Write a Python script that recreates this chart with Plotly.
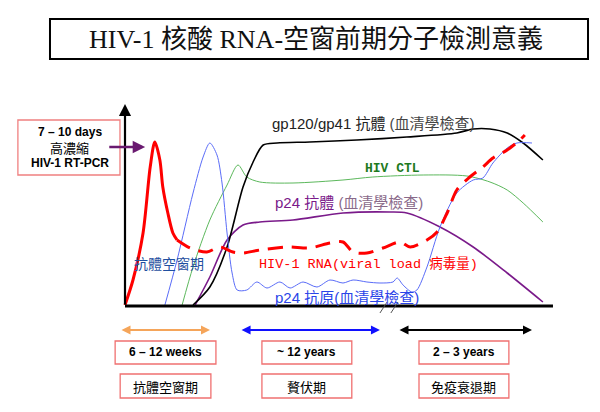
import plotly.graph_objects as go

# ---- data (time units 0-100 along x axis, level 0-100 along y axis) ----
rna_solid_t = [0, 1.9, 4.3, 6.0, 7.1, 8.3, 9.0, 10.2, 11.4, 12.4]
rna_solid_v = [0.5, 13, 36.5, 69.5, 82, 73, 59.5, 46.5, 36.5, 33]

rna_dash_t = [12.4, 15.5, 19.5, 22.6, 25.7, 28.1, 32.1, 38.6, 44, 48.8, 51.9, 54.3, 57.6,
              61.4, 65.5, 67.9, 71.9, 74.3, 76.7, 79, 82.1, 85.2, 87.6, 91, 94, 95.2]
rna_dash_v = [33, 29, 27, 29.5, 27, 26.5, 28, 29.5, 29, 31.5, 32, 27, 26.5,
              29, 32, 29.5, 33, 37, 46.5, 58, 64.5, 69.5, 74, 78, 83, 85.5]

p24ag_t = [9.5, 12.4, 16.2, 18.6, 20.2, 21.9, 23.1, 24.3, 25.5, 26.7, 29, 31.4, 33.8, 36.9,
           39.3, 42.4, 45.7, 48.8, 51.9, 54.3, 57.6, 60.7, 63.8, 64.8, 66.2, 68.3, 69.5,
           71.9, 75, 79, 82.9, 85.2, 87.6, 91, 93.3, 96.9]
p24ag_v = [0.5, 23, 56.5, 74.5, 81.5, 75.5, 61.5, 36.5, 16.5, 8, 8, 12, 9, 12,
           9, 12, 9.5, 13, 11.5, 13, 12, 11.5, 12, 14, 10.5, 7, 8,
           19.5, 39.5, 56.5, 63, 64, 71.5, 79, 81.5, 81.5]

ctl_t = [13.6, 16.2, 20.2, 24.3, 26.9, 29, 32.1, 40, 51.9, 59, 71, 81.4, 86.9, 91, 94.8, 99.5]
ctl_v = [0.5, 19.5, 43, 60.5, 70.5, 64.5, 62, 61.5, 63, 64.5, 65.5, 65, 62, 58, 51.5, 42]

gp_t = [16.2, 20.2, 24.3, 28.1, 30.5, 32.9, 36.2, 44, 55.2, 67.1, 79, 82.9, 86.9, 91, 94.8, 99.5]
gp_v = [0.5, 9.5, 29.5, 59.5, 72, 80.5, 81.5, 82, 83, 84.5, 86.5, 88.5, 88.5, 86.5, 81.5, 73]

p24ab_t = [16.7, 20.2, 24.3, 28.1, 32.1, 40, 51.9, 63.1, 67.1, 75, 82.9, 91, 99.5]
p24ab_v = [0.5, 14.5, 33, 40.5, 42, 43, 46.5, 47, 46.5, 39.5, 29.5, 16.5, 2]

phase_start = [-1.19, 27.4, 65.0]
phase_end = [20.24, 60.7, 96.9]
phase_colors = ["#f5a55a", "#1010ff", "#000000"]
phase_durations = ["6 – 12 weeks", "~ 12 years", "2 – 3 years"]
phase_names = ["抗體空窗期", "贅伏期", "免疫衰退期"]

title_text = "HIV-1 核酸 RNA-空窗前期分子檢測意義"

# figure is placed 8px in from the page corner; page px = 125 + 4.2*t ; py = 306 - 2*v
W, H, OFF = 584, 396, 8
XR = [(OFF - 125) / 4.2, (OFF + W - 125) / 4.2]
YR = [(306 - OFF - H) / 2, (306 - OFF) / 2]

CJK = "Noto Sans CJK TC"
SANS = "Liberation Sans, " + CJK
MONO = "Liberation Mono, " + CJK
SERIF = "Liberation Serif, " + CJK

fig = go.Figure()

def line(t, v, color, width, dash="solid"):
    fig.add_trace(go.Scatter(x=t, y=v, mode="lines",
                             line=dict(color=color, width=width, dash=dash,
                                       shape="spline", smoothing=0.8),
                             hoverinfo="skip", showlegend=False))

line(ctl_t, ctl_v, "#5cb85c", 1)
line(p24ab_t, p24ab_v, "#7a1a8a", 1.6)
line(gp_t, gp_v, "#000000", 1.6)
line(p24ag_t, p24ag_v, "#5a6cf8", 1)
line(rna_solid_t, rna_solid_v, "#ff0000", 3)
line(rna_dash_t, rna_dash_v, "#ff0000", 3, dash="15px,9px")

shapes = []
annotations = []

# title box
shapes.append(dict(type="rect", x0=-17.86, x1=110.24, y0=123.5, y1=143.5,
                   line=dict(color="#000", width=2), fillcolor="rgba(0,0,0,0)"))
annotations.append(dict(x=45.5, y=133.5, text=title_text, showarrow=False,
                        font=dict(family=SERIF, size=26, color="#111")))

# x axis
shapes.append(dict(type="line", x0=0, x1=101.9, y0=0, y1=0,
                   line=dict(color="#000", width=3)))
# y axis arrow
annotations.append(dict(x=0, y=101, ax=0, ay=0, xref="x", yref="y", axref="x", ayref="y",
                        text="", showarrow=True, arrowhead=2, arrowsize=1.1,
                        arrowwidth=2.2, arrowcolor="#000"))
# break marks
for x0 in [60.7, 63.3]:
    shapes.append(dict(type="line", x0=x0, x1=x0 + 1.7, y0=-3.5, y1=2,
                       line=dict(color="#555", width=1)))

# left box
shapes.append(dict(type="rect", x0=-25.5, x1=-1.2, y0=65.5, y1=93,
                   line=dict(color="#f08080", width=1.3)))
annotations += [
    dict(x=-13.1, y=87, text="<b>7 – 10 days</b>", showarrow=False,
         font=dict(family=SANS, size=12, color="#000")),
    dict(x=-13.1, y=79.3, text="高濃縮", showarrow=False,
         font=dict(family=CJK, size=13, color="#000")),
    dict(x=-13.1, y=71.5, text="<b>HIV-1 RT-PCR</b>", showarrow=False,
         font=dict(family=SANS, size=12, color="#000")),
]
annotations.append(dict(x=4.8, y=79.5, ax=-4.1, ay=79.5, xref="x", yref="y",
                        axref="x", ayref="y", text="", showarrow=True, arrowhead=2,
                        arrowsize=1, arrowwidth=2.5, arrowcolor="#6a1a70"))

# curve labels
annotations += [
    dict(x=34.5, y=91.5, xanchor="left",
         text="<span style='color:#222'>gp120/gp41 抗體 </span><span style='color:#444'>(血清學檢查)</span>",
         showarrow=False, font=dict(family=SANS, size=15)),
    dict(x=56.6, y=69, xanchor="left", text="<b>HIV CTL</b>", showarrow=False,
         font=dict(family=MONO, size=13, color="#1e7a1e")),
    dict(x=35.2, y=52, xanchor="left",
         text="<span style='color:#7a1a8a'>p24 抗體 </span><span style='color:#8a6a8a'>(血清學檢查)</span>",
         showarrow=False, font=dict(family=SANS, size=15)),
    dict(x=31.4, y=21, xanchor="left", text="HIV-1 RNA(viral load 病毒量)",
         showarrow=False, font=dict(family=MONO, size=13.5, color="#ff0000")),
    dict(x=1.7, y=21.5, xanchor="left", text="抗體空窗期", showarrow=False,
         font=dict(family=CJK, size=14, color="#1f4fa0")),
    dict(x=35.2, y=4.5, xanchor="left", text="p24 抗原(血清學檢查)", showarrow=False,
         font=dict(family=SANS, size=15, color="#2a44e8")),
]

# phase arrows and boxes
row1_half = [12.0, 10.7, 10.7]
row2_half = [10.8, 10.7, 10.7]
for i in range(3):
    a, b = phase_start[i], phase_end[i]
    annotations.append(dict(x=b, y=-12, ax=a, ay=-12, xref="x", yref="y",
                            axref="x", ayref="y", text="", showarrow=True,
                            arrowhead=2, startarrowhead=2, arrowside="end+start",
                            arrowsize=1, startarrowsize=1, arrowwidth=1.8,
                            arrowcolor=phase_colors[i]))
    c = [9.65, 43.3, 80.7][i]
    shapes.append(dict(type="rect", x0=c - row1_half[i], x1=c + row1_half[i],
                       y0=-29, y1=-17.5, line=dict(color="#f07070", width=1.3)))
    shapes.append(dict(type="rect", x0=c - row2_half[i], x1=c + row2_half[i],
                       y0=-46, y1=-34, line=dict(color="#f07070", width=1.3)))
    annotations.append(dict(x=c, y=-23.2, text="<b>%s</b>" % phase_durations[i],
                            showarrow=False, font=dict(family=SANS, size=12, color="#000")))
    annotations.append(dict(x=c, y=-40, text=phase_names[i], showarrow=False,
                            font=dict(family=CJK, size=13, color="#000")))

fig.update_layout(
    width=W, height=H, margin=dict(l=0, r=0, t=0, b=0),
    paper_bgcolor="white", plot_bgcolor="white",
    xaxis=dict(range=XR, visible=False, fixedrange=True),
    yaxis=dict(range=YR, visible=False, fixedrange=True),
    shapes=shapes, annotations=annotations, showlegend=False,
)

fig.write_html("out.html")
